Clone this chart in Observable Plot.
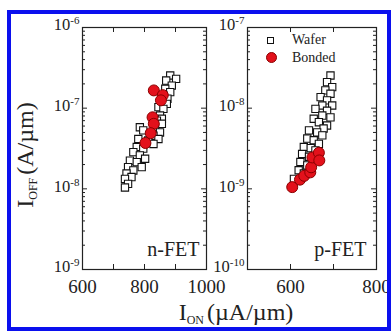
<!DOCTYPE html>
<html><head><meta charset="utf-8">
<script src="https://cdn.jsdelivr.net/npm/d3@7"></script>
<script src="https://cdn.jsdelivr.net/npm/@observablehq/plot@0.6"></script>
<style>
body{margin:0;background:#fff;}
#wrap{position:relative;width:391px;height:331px;overflow:hidden;font-family:"Liberation Serif","Times New Roman",serif;color:#222;}
#wrap svg{position:absolute;left:0;top:0;}
.border{position:absolute;left:7px;top:10px;width:384px;height:321px;box-sizing:border-box;border:4px solid #0b10ee;}
.title{position:absolute;white-space:nowrap;font-size:24px;line-height:1;transform:translate(-50%,-50%);}
.title .sub{font-size:12px;position:relative;top:4px;margin-right:3px;}
.ytitle{transform:translate(-50%,-50%) rotate(-90deg);}
.leg{position:absolute;font-size:14px;line-height:1;white-space:nowrap;transform:translateY(-50%);}
.sq{position:absolute;box-sizing:border-box;border:1.2px solid #111;background:#fff;}
.ci{position:absolute;box-sizing:border-box;border:1px solid #8b0000;background:#e3111b;border-radius:50%;}
</style>
</head><body>
<div id="wrap"></div>
<script>
// n-FET data (I_ON in µA/µm, I_OFF in A/µm)
const nWaferOn  = [883, 902, 870, 888, 867, 883, 861, 874, 856, 872, 845, 861, 850, 856, 840, 856, 834, 850, 785, 796, 829, 845, 780, 812, 829, 775, 796, 764, 785, 802, 753, 775, 791, 747, 764, 742, 758, 737, 747, 737];
const nWaferOff = [2.54e-7, 2.31e-7, 2.2e-7, 1.9e-7, 1.74e-7, 1.58e-7, 1.44e-7, 1.31e-7, 1.19e-7, 1.13e-7, 1.03e-7, 9.8e-8, 8.1e-8, 7.4e-8, 7.0e-8, 6.4e-8, 5.8e-8, 5.0e-8, 5.8e-8, 5.3e-8, 4.55e-8, 4.15e-8, 4.15e-8, 3.97e-8, 3.6e-8, 3.3e-8, 3.15e-8, 2.85e-8, 2.6e-8, 2.36e-8, 2.24e-8, 2.14e-8, 1.86e-8, 1.86e-8, 1.69e-8, 1.55e-8, 1.40e-8, 1.33e-8, 1.15e-8, 1.04e-8];
const nBondedOn  = [830, 859, 853, 826, 830, 820, 803];
const nBondedOff = [1.66e-7, 1.45e-7, 1.25e-7, 7.7e-8, 6.4e-8, 4.9e-8, 3.7e-8];
// p-FET data
const pWaferOn  = [693, 685, 697, 681, 693, 670, 685, 697, 674, 658, 685, 674, 693, 654, 666, 685, 677, 643, 662, 674, 639, 654, 666, 631, 647, 658, 627, 643, 623, 639, 619, 631, 608];
const pWaferOff = [2.54e-8, 2.10e-8, 1.82e-8, 1.66e-8, 1.51e-8, 1.37e-8, 1.25e-8, 1.08e-8, 1.08e-8, 9.8e-9, 9.3e-9, 8.1e-9, 7.7e-9, 7.4e-9, 6.7e-9, 6.1e-9, 5.6e-9, 5.3e-9, 5.0e-9, 4.6e-9, 4.2e-9, 4.0e-9, 3.6e-9, 3.3e-9, 3.2e-9, 3.0e-9, 2.7e-9, 2.5e-9, 2.15e-9, 1.95e-9, 1.7e-9, 1.55e-9, 1.33e-9];
const pBondedOn  = [604, 622, 632, 646, 648, 651, 666, 667];
const pBondedOff = [1.05e-9, 1.3e-9, 1.45e-9, 1.6e-9, 1.85e-9, 2.45e-9, 2.8e-9, 2.25e-9];
// axes
const nXDomain = [600, 1000];
const pXDomain = [500, 800];
const nXLabels = [600, 800, 1000];
const pXLabels = [600, 800];
const nXTicks = [600, 700, 800, 900, 1000];
const pXTicks = [500, 600, 700, 800];
const nYDecades = [1e-9, 1e-8, 1e-7, 1e-6];
const pYDecades = [1e-10, 1e-9, 1e-8, 1e-7];
const panelNames = ["n-FET", "p-FET"];
const legendLabels = ["Wafer", "Bonded"];
const xTitle = ["I", "ON", "(µA/µm)"];
const yTitle = ["I", "OFF", "(A/µm)"];

const W = 391, H = 331, TOP = 27, BOT = 269;
const ink = "#222";
const NS = "http://www.w3.org/2000/svg";

function minorTicks(dec) {
  const out = [];
  for (let i = 0; i < dec.length - 1; i++) for (let k = 2; k <= 9; k++) out.push(dec[i] * k);
  return out;
}

function panel(o) {
  const fw = o.right - o.left, fh = BOT - TOP;
  const wafer = o.wOn.map((x, i) => ({x, y: o.wOff[i]}));
  const bonded = o.bOn.map((x, i) => ({x, y: o.bOff[i]}));
  const yMin = minorTicks(o.yDec);
  const svg = Plot.plot({
    width: W, height: H,
    marginLeft: o.left, marginRight: W - o.right, marginTop: TOP, marginBottom: H - BOT,
    style: {background: "transparent", overflow: "visible", fontFamily: '"Liberation Serif", "Times New Roman", serif', color: ink},
    x: {domain: o.xDom},
    y: {type: "log", domain: [o.yDec[0], o.yDec[o.yDec.length - 1]]},
    marks: [
      Plot.tickX(o.xTicks, {x: d => d, insetTop: fh - 5, stroke: ink}),
      Plot.tickX(o.xTicks, {x: d => d, insetBottom: fh - 5, stroke: ink}),
      Plot.tickY(o.yDec, {y: d => d, insetRight: fw - 5, stroke: ink}),
      Plot.tickY(o.yDec, {y: d => d, insetLeft: fw - 5, stroke: ink}),
      Plot.tickY(yMin, {y: d => d, insetRight: fw - 3, stroke: ink}),
      Plot.tickY(yMin, {y: d => d, insetLeft: fw - 3, stroke: ink}),
      Plot.frame({stroke: ink, strokeWidth: 1.2}),
      Plot.axisX({ticks: o.xLabels, tickSize: 0, tickPadding: 10, fontSize: 19, label: null, tickFormat: d => String(d), fill: ink}),
      Plot.axisY({ticks: o.yDec, tickSize: 0, tickPadding: 3, fontSize: 16.5, dy: -2.5, label: null, tickFormat: d => String(Math.round(Math.log10(d))), fill: ink}),
      Plot.dot(wafer, {x: "x", y: "y", symbol: "square", r: 4.1, fill: "white", stroke: "#111", strokeWidth: 1.1}),
      Plot.dot(bonded, {x: "x", y: "y", r: 5.5, fill: "#e3111b", stroke: "#8b0000", strokeWidth: 1}),
      Plot.text([o.name], {text: d => d, frameAnchor: "bottom-right", dx: -o.nameDx, dy: -20, lineAnchor: "middle", textAnchor: "end", fontSize: 20, fill: ink})
    ]
  });
  svg.querySelectorAll('g[aria-label="y-axis tick label"] text').forEach(t => {
    const e = t.textContent;
    t.textContent = "";
    const a = document.createElementNS(NS, "tspan"); a.textContent = "10";
    const b = document.createElementNS(NS, "tspan"); b.textContent = e;
    b.setAttribute("dy", "-0.55em"); b.setAttribute("font-size", "11");
    t.append(a, b);
  });
  return svg;
}

const wrap = document.getElementById("wrap");
wrap.append(panel({left: 82, right: 206, xDom: nXDomain, xTicks: nXTicks, xLabels: nXLabels, yDec: nYDecades,
  wOn: nWaferOn, wOff: nWaferOff, bOn: nBondedOn, bOff: nBondedOff, name: panelNames[0], nameDx: 7}));
wrap.append(panel({left: 247, right: 376, xDom: pXDomain, xTicks: pXTicks, xLabels: pXLabels, yDec: pYDecades,
  wOn: pWaferOn, wOff: pWaferOff, bOn: pBondedOn, bOff: pBondedOff, name: panelNames[1], nameDx: 10}));

function addTitle(parts, cls, x, y) {
  const d = document.createElement("div");
  d.className = "title " + cls;
  d.style.left = x + "px"; d.style.top = y + "px";
  const s = document.createElement("span"); s.className = "sub"; s.textContent = parts[1];
  d.append(parts[0], s, parts[2]);
  wrap.append(d);
}
addTitle(xTitle, "", 236, 312);
addTitle(yTitle, "ytitle", 25, 155);

// legend
const sq = document.createElement("div"); sq.className = "sq";
Object.assign(sq.style, {left: "266.5px", top: "36.5px", width: "7px", height: "7px"});
const ci = document.createElement("div"); ci.className = "ci";
Object.assign(ci.style, {left: "266px", top: "52px", width: "11px", height: "11px"});
wrap.append(sq, ci);
legendLabels.forEach((l, i) => {
  const s = document.createElement("div"); s.className = "leg"; s.textContent = l;
  s.style.left = "292px"; s.style.top = (i === 0 ? 40 : 57.5) + "px";
  wrap.append(s);
});
const border = document.createElement("div"); border.className = "border";
wrap.append(border);
</script>
</body></html>
